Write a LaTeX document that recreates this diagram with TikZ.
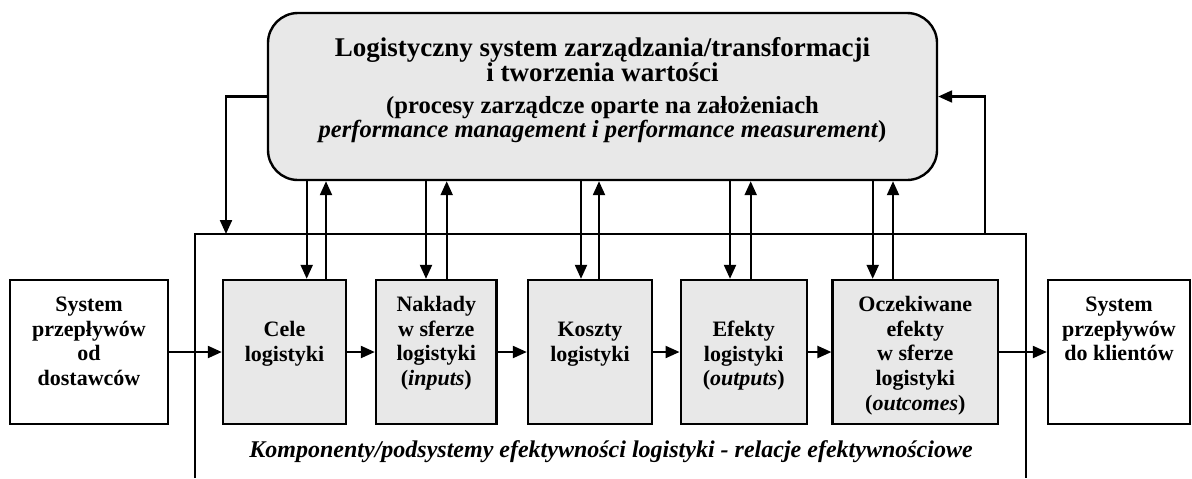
\documentclass[tikz,border=0pt]{standalone}
\usepackage{fontspec}
\setmainfont{Liberation Serif}
\usetikzlibrary{arrows.meta}

\tikzset{
  arr/.style={line width=1.1pt,-{Triangle[length=7pt,width=6pt]}},
  blk/.style={draw,line width=1.2pt,minimum height=72pt,inner sep=0pt},
  grayblk/.style={blk,fill=black!9},
  lbl/.style={align=center,inner sep=0pt,anchor=north,font=\fontsize{11}{12.4}\selectfont\bfseries},
  headline/.style={anchor=base,inner sep=0pt,font=\fontsize{13.5}{15}\selectfont\bfseries},
  subline/.style={anchor=base,inner sep=0pt,font=\fontsize{12.3}{14}\selectfont\bfseries},
}

\begin{document}
\begin{tikzpicture}[x=0.5pt,y=-0.5pt]
	\useasboundingbox (0,0) rectangle (1192,478);

	% system zarzadzania
	\node[draw,line width=1.2pt,fill=black!9,rounded corners=15pt,minimum width=334.5pt,minimum height=83.5pt] (top) at (602.5,96.5) {};
	\node[headline] (head1) at (602.5,56) {Logistyczny system zarządzania/transformacji};
	\node[headline] (head2) at (602.5,81) {i tworzenia wartości};
	\node[subline] (head3) at (602.5,113) {(procesy zarządcze oparte na założeniach};
	\node[subline] (head4) at (602.5,137) {\textit{performance management i performance measurement})};

	% ramka komponentow
	\draw[line width=1.1pt] (195,478) |- (1026,234) -- (1026,478);
	\node[anchor=base,inner sep=0pt,font=\fontsize{12}{14}\selectfont\bfseries\itshape] (komp) at (611,457) {Komponenty/podsystemy efektywności logistyki - relacje efektywnościowe};

	% bloki
	\node[blk,minimum width=79pt] (src) at (89,352) {};
	\node[grayblk,minimum width=61.5pt] (cele) at (284.5,352) {};
	\node[grayblk,minimum width=60.3pt] (nakl) at (436.3,352) {};
	\node[grayblk,minimum width=62pt] (kosz) at (590,352) {};
	\node[grayblk,minimum width=63pt] (efek) at (743.7,352) {};
	\node[grayblk,minimum width=82.7pt] (ocz) at (915.3,352) {};
	\node[blk,minimum width=71pt] (dst) at (1119,352) {};

	\node[lbl] (src-l) at (89,293.6) {\strut System\\przepływów\\od\\dostawców};
	\node[lbl] (cele-l) at (284.5,318.6) {\strut Cele\\logistyki};
	\node[lbl] (nakl-l) at (436.3,293.6) {\strut Nakłady\\w sferze\\logistyki\\(\textit{inputs})};
	\node[lbl] (kosz-l) at (590,318.6) {\strut Koszty\\logistyki};
	\node[lbl] (efek-l) at (743.7,318.6) {\strut Efekty\\logistyki\\(\textit{outputs})};
	\node[lbl] (ocz-l) at (915.3,293.6) {\strut Oczekiwane\\efekty\\w sferze\\logistyki\\(\textit{outcomes})};
	\node[lbl] (dst-l) at (1119,293.6) {\strut System\\przepływów\\do klientów};

	% przeplyw
	\foreach \a/\b in {src/cele,cele/nakl,nakl/kosz,kosz/efek,efek/ocz,ocz/dst}
		\draw[arr] (\a) -- (\b);

	% sprzezenia w gore i w dol
	\foreach \dn/\up/\b in {306.7/326/cele,426/446.7/nakl,581/599/kosz,730/750.7/efek,872.7/893/ocz} {
		\draw[arr] (top.south -| \dn,0) -- (\b.north -| \dn,0);
		\draw[arr] (\b.north -| \up,0) -- (top.south -| \up,0);
	}

	\coordinate (fbl) at (226,234);
	\coordinate (fbr) at (985,234);
	\draw[arr] (top.west) -| (fbl);
	\draw[arr] (fbr) |- (top.east);
\end{tikzpicture}
\end{document}
